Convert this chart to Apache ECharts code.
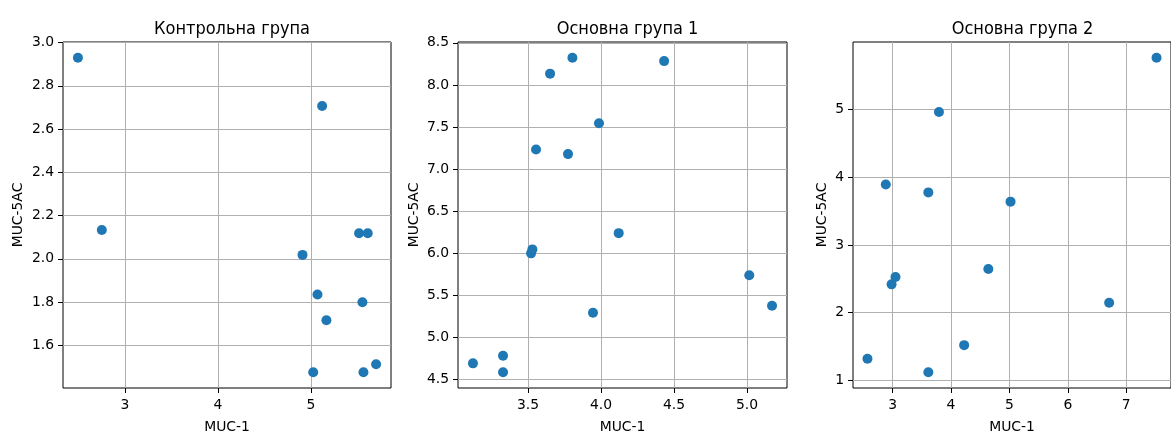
<!DOCTYPE html>
<html><head><meta charset="utf-8">
<script src="https://cdn.jsdelivr.net/npm/echarts@6/dist/echarts.min.js"></script>
<style>html,body{margin:0;padding:0;background:#fff}#c{width:1171px;height:439px}</style>
</head><body><div id="c"></div>
<script>
const titles = ["Контрольна група", "Основна група 1", "Основна група 2"];
const xName = "MUC-1";
const yName = "MUC-5AC";

const control = [[2.496,2.930],[2.753,2.133],[5.121,2.707],[5.518,2.118],[5.611,2.118],[4.910,2.018],[5.071,1.835],[5.554,1.799],[5.167,1.716],[5.025,1.475],[5.565,1.475],[5.701,1.512]];
const group1 = [[3.123,4.692],[3.329,4.783],[3.329,4.586],[3.521,5.999],[3.530,6.046],[3.555,7.233],[3.651,8.134],[3.804,8.323],[3.774,7.178],[3.986,7.544],[3.945,5.294],[4.121,6.239],[4.432,8.283],[5.015,5.739],[5.171,5.377]];
const group2 = [[2.570,1.317],[2.884,3.894],[2.983,2.417],[3.050,2.526],[3.612,3.777],[3.612,1.117],[3.794,4.965],[4.225,1.518],[4.639,2.643],[5.019,3.640],[6.707,2.144],[7.518,5.768]];

const xTicks1 = [3,4,5];
const yTicks1 = [1.6,1.8,2.0,2.2,2.4,2.6,2.8,3.0];
const xTicks2 = [3.5,4.0,4.5,5.0];
const yTicks2 = [4.5,5.0,5.5,6.0,6.5,7.0,7.5,8.0,8.5];
const xTicks3 = [3,4,5,6,7];
const yTicks3 = [1,2,3,4,5];

const datasets = [control, group1, group2];
const xTicks = [xTicks1, xTicks2, xTicks3];
const yTicks = [yTicks1, yTicks2, yTicks3];
const xDec = [0,1,0];
const yDec = [1,1,0];

function extent(arr, idx) {
  const v = arr.map(p => p[idx]);
  const lo = Math.min(...v), hi = Math.max(...v), m = (hi - lo) * 0.05;
  return [lo - m, hi + m];
}

const gridsPos = [
  {left: 63, top: 42, width: 328, height: 349},
  {left: 458, top: 42, width: 329, height: 349},
  {left: 853, top: 42, width: 329, height: 349}
];
const yNameGap = [38, 37, 24];
const font = "DejaVu Sans";

const option = {
  animation: false,
  backgroundColor: '#fff',
  title: titles.map((t, i) => ({
    text: t,
    left: gridsPos[i].left + gridsPos[i].width / 2,
    top: 15,
    textAlign: 'center',
    textStyle: {fontFamily: "'DejaVu Sans Condensed', 'DejaVu Sans'", fontSize: 18, fontWeight: 'normal', color: '#000'}
  })),
  grid: gridsPos.map(g => Object.assign({show: true, borderColor: '#000', borderWidth: 1, backgroundColor: 'transparent', containLabel: false}, g)),
  xAxis: datasets.map((d, i) => {
    const [mn, mx] = extent(d, 0);
    return {
      type: 'value', gridIndex: i, min: mn, max: mx,
      name: xName, nameLocation: 'middle', nameGap: 32,
      nameTextStyle: {fontFamily: font, fontSize: 13.9, color: '#000'},
      axisLine: {show: false},
      axisTick: {show: true, length: 5, lineStyle: {color: '#000', width: 1}, customValues: xTicks[i]},
      axisLabel: {fontFamily: font, fontSize: 13.9, color: '#000', margin: 10, customValues: xTicks[i], formatter: v => Number(v).toFixed(xDec[i])},
      splitLine: {show: true, lineStyle: {color: '#b0b0b0', width: 1}}
    };
  }),
  yAxis: datasets.map((d, i) => {
    const [mn, mx] = extent(d, 1);
    return {
      type: 'value', gridIndex: i, min: mn, max: mx,
      name: yName, nameLocation: 'middle', nameGap: yNameGap[i],
      nameTextStyle: {fontFamily: font, fontSize: 13.9, color: '#000'},
      axisLine: {show: false},
      axisTick: {show: true, length: 5, lineStyle: {color: '#000', width: 1}, customValues: yTicks[i]},
      axisLabel: {fontFamily: font, fontSize: 13.9, color: '#000', margin: 9, customValues: yTicks[i], formatter: v => Number(v).toFixed(yDec[i])},
      splitLine: {show: true, lineStyle: {color: '#b0b0b0', width: 1}}
    };
  }),
  series: datasets.map((d, i) => ({
    type: 'scatter', xAxisIndex: i, yAxisIndex: i, data: d,
    symbolSize: 10, itemStyle: {color: '#1f77b4', opacity: 1}
  }))
};
const chart = echarts.init(document.getElementById('c'), null, {renderer: 'canvas'});
chart.setOption(option);
</script></body></html>
